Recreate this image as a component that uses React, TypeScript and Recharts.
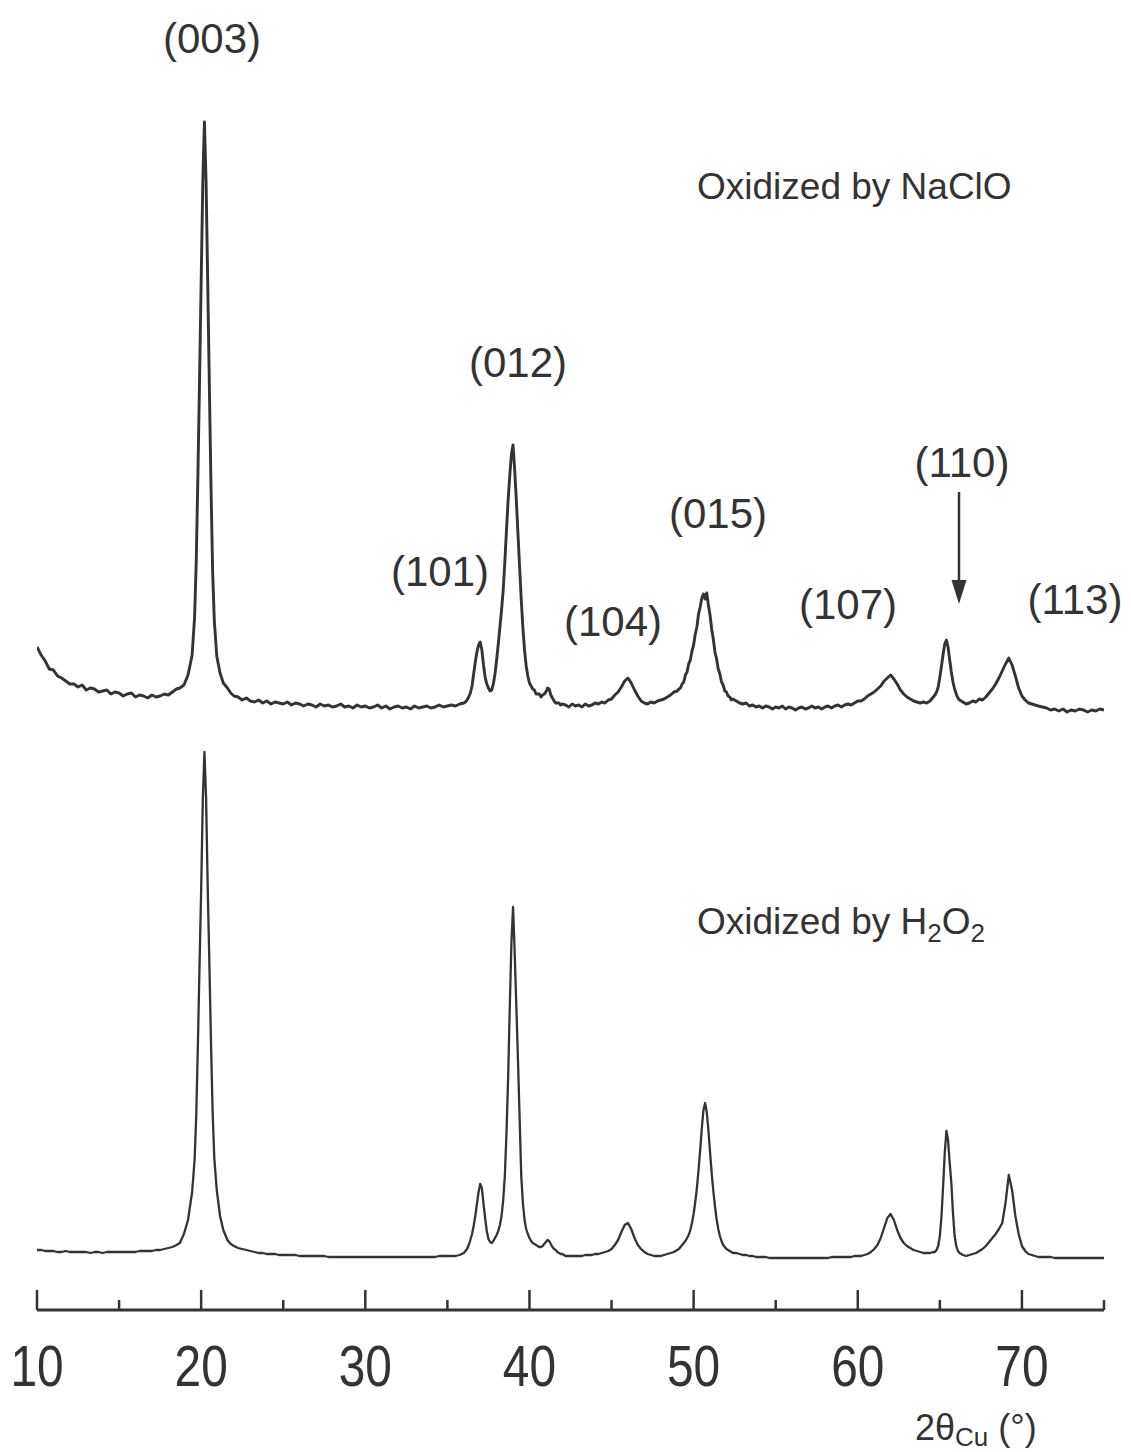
import { LineChart, Line, XAxis, YAxis } from "recharts";

// 2θ (degrees) sampling grid, denser around the reflections
const angle = [
  10, 10.25, 10.5, 10.75, 11, 11.25, 11.5, 11.75, 12, 12.25, 12.5, 12.75, 13, 13.25, 13.5, 13.75, 14, 14.25, 14.5, 14.75, 15, 15.25, 15.5, 15.75, 16, 16.25, 16.5, 16.75, 17, 17.25, 17.5, 17.75, 18, 18.25, 18.5,
  18.7, 18.95, 19.2, 19.45, 19.6, 19.7, 19.8, 19.9, 20.0, 20.1, 20.2, 20.3, 20.4, 20.5, 20.6, 20.7, 20.8, 20.95, 21.15, 21.35, 21.6, 21.8,
  22, 22.25, 22.5, 22.75, 23, 23.25, 23.5, 23.75, 24, 24.25, 24.5, 24.75, 25, 25.25, 25.5, 25.75, 26, 26.25, 26.5, 26.75, 27, 27.25, 27.5, 27.75, 28, 28.25, 28.5, 28.75, 29, 29.25, 29.5, 29.75, 30, 30.25, 30.5, 30.75, 31, 31.25, 31.5, 31.75, 32, 32.25, 32.5, 32.75, 33, 33.25, 33.5, 33.75, 34, 34.25, 34.5, 34.75, 35, 35.25, 35.5, 35.75,
  36.0, 36.1, 36.2, 36.3, 36.4, 36.5, 36.6, 36.7, 36.8, 36.9, 37.0, 37.1, 37.2, 37.3, 37.4, 37.5, 37.6, 37.7, 37.8, 37.9, 38.0, 38.1, 38.2, 38.3, 38.4, 38.5, 38.6, 38.7, 38.8, 38.9, 39.0, 39.1, 39.2, 39.3, 39.4, 39.5, 39.6, 39.7, 39.8, 39.9, 40.0, 40.1, 40.2, 40.3, 40.4, 40.5, 40.6, 40.7, 40.8, 40.9, 41.0, 41.1, 41.2, 41.3, 41.4, 41.5, 41.6, 41.7, 41.8, 41.9, 42.0,
  42.2, 42.4, 42.6, 42.8, 43, 43.2, 43.4, 43.6, 43.8, 44, 44.2, 44.4, 44.6, 44.8, 45, 45.2, 45.4, 45.6, 45.8, 46, 46.2, 46.4, 46.6, 46.8, 47, 47.2, 47.4, 47.6, 47.8, 48, 48.2, 48.4, 48.6, 48.8,
  49.0, 49.1, 49.2, 49.3, 49.4, 49.5, 49.6, 49.7, 49.8, 49.9, 50.0, 50.1, 50.2, 50.3, 50.4, 50.5, 50.6, 50.7, 50.8, 50.9, 51.0, 51.1, 51.2, 51.3, 51.4, 51.5, 51.6, 51.7, 51.8, 51.9, 52.0, 52.1, 52.2, 52.3, 52.4,
  52.6, 52.8, 53, 53.2, 53.4, 53.6, 53.8, 54, 54.2, 54.4, 54.6, 54.8, 55, 55.2, 55.4, 55.6, 55.8, 56, 56.2, 56.4, 56.6, 56.8, 57, 57.2, 57.4, 57.6, 57.8, 58, 58.2, 58.4, 58.6, 58.8, 59, 59.2, 59.4, 59.6, 59.8, 60, 60.2, 60.4,
  60.6, 60.8, 61, 61.2, 61.4, 61.6, 61.8, 62, 62.2, 62.4, 62.6, 62.8, 63, 63.2, 63.4, 63.6, 63.8, 64, 64.2, 64.4, 64.6,
  64.7, 64.8, 64.9, 65, 65.1, 65.2, 65.3, 65.4, 65.5, 65.6, 65.7, 65.8, 65.9, 66, 66.1, 66.2,
  66.4, 66.6, 66.8, 67, 67.2, 67.4, 67.6, 67.8, 68, 68.2, 68.4, 68.6, 68.8, 69, 69.2, 69.4, 69.6, 69.8, 70, 70.2, 70.4, 70.6, 70.8, 71,
  71.25, 71.5, 71.75, 72, 72.25, 72.5, 72.75, 73, 73.25, 73.5, 73.75, 74, 74.25, 74.5, 74.75, 75,
];

// intensity (a.u.), sample oxidized by NaClO
const naclo = [
  65, 57, 51, 43, 42, 36, 34, 31, 28, 28, 25, 27, 22, 24, 23, 20, 21, 22, 18, 20, 19, 16, 18, 19, 15, 17, 16, 14, 17, 15, 16, 18, 17, 20, 23,
  24, 27, 37, 57, 95, 150, 235, 330, 430, 530, 590, 530, 430, 325, 225, 140, 92, 56, 39, 29, 24, 19,
  16, 15, 12, 14, 11, 10, 12, 9, 11, 8, 10, 9, 8, 10, 7, 9, 8, 6, 8, 7, 5, 8, 6, 7, 5, 6, 8, 5, 6, 4, 7, 5, 6, 4, 5, 7, 4, 6, 3, 5, 6, 4, 5, 3, 6, 4, 5, 6, 4, 5, 7, 5, 6, 7, 6, 8,
  9, 10, 12, 15, 19, 26, 38, 50, 60, 67, 70, 62, 47, 35, 28, 24, 21, 22, 28, 38, 52, 68, 85, 102, 122, 150, 182, 212, 236, 258, 267, 242, 212, 178, 145, 112, 84, 62, 46, 36, 29, 26, 23, 22, 18, 18, 18, 15, 17, 18, 20, 24, 23, 17, 14, 11, 9, 9, 9, 7, 8,
  7, 5, 8, 6, 7, 5, 8, 6, 7, 9, 8, 10, 9, 12, 13, 17, 20, 25, 31, 34, 29, 22, 16, 11, 9, 8, 10, 9, 11, 12, 13, 15, 17, 20,
  21, 23, 24, 28, 30, 37, 40, 48, 52, 61, 67, 78, 85, 98, 105, 114, 118, 113, 119, 107, 97, 83, 73, 60, 53, 43, 38, 30, 27, 21, 20, 16, 15, 12, 13,
  11, 9, 8, 9, 6, 7, 5, 6, 4, 6, 5, 3, 5, 4, 6, 3, 5, 4, 2, 4, 5, 3, 4, 6, 4, 5, 3, 5, 6, 4, 6, 7, 5, 7, 8, 7, 9, 11, 11, 13,
  16, 18, 20, 23, 26, 31, 34, 37, 33, 28, 22, 18, 15, 13, 11, 10, 9, 10, 9, 11, 15,
  17, 20, 25, 35, 46, 58, 68, 72, 65, 52, 40, 30, 23, 18, 14, 12,
  10, 8, 9, 11, 10, 13, 12, 15, 19, 23, 28, 34, 41, 48, 54, 47, 36, 24, 16, 12, 9, 8, 7, 6,
  5, 4, 2, 3, 1, 3, 0, 2, 1, 3, 2, 0, 2, 1, 3, 2,
];

// intensity (a.u.), sample oxidized by H2O2
const h2o2 = [
  8, 8, 7, 7, 7, 6, 6, 7, 6, 6, 6, 6, 6, 5, 6, 6, 5, 6, 6, 6, 6, 6, 6, 6, 6, 7, 7, 7, 7, 8, 8, 9, 10, 11, 13,
  15, 24, 38, 66, 98, 142, 212, 292, 368, 458, 506, 460, 370, 295, 215, 145, 100, 68, 42, 28, 18, 14,
  12, 10, 9, 8, 7, 6, 5, 5, 4, 4, 4, 3, 3, 3, 3, 3, 2, 2, 2, 2, 2, 2, 2, 1, 1, 1, 1, 1, 1, 1, 1, 1, 1, 1, 1, 1, 1, 1, 1, 1, 1, 1, 1, 1, 1, 1, 1, 1, 1, 1, 2, 2, 2, 2, 2, 3,
  5, 7, 9, 13, 18, 24, 32, 42, 54, 66, 74, 70, 54, 40, 27, 19, 16, 15, 17, 20, 23, 27, 33, 42, 58, 82, 125, 180, 250, 315, 351, 305, 252, 198, 140, 82, 55, 38, 29, 24, 20, 17, 15, 14, 13, 12, 11, 11, 12, 14, 16, 18, 17, 14, 11, 9, 8, 6, 5, 4, 4,
  2, 2, 2, 2, 2, 2, 3, 3, 3, 4, 4, 5, 6, 7, 9, 13, 18, 26, 33, 35, 29, 20, 13, 9, 6, 4, 3, 2, 2, 2, 3, 4, 5, 6,
  8, 9, 11, 13, 15, 17, 20, 23, 28, 35, 44, 56, 70, 88, 108, 130, 148, 155, 146, 128, 106, 85, 67, 52, 39, 29, 22, 17, 13, 11, 9, 8, 7, 6, 5,
  5, 4, 3, 3, 2, 2, 1, 1, 1, 1, 0, 0, 0, 0, 0, 0, 0, 0, 0, 0, 0, 0, 0, 0, 0, 0, 0, 0, 0, 1, 1, 1, 1, 1, 1, 1, 2, 2, 2, 3,
  4, 6, 9, 13, 20, 30, 40, 44, 38, 28, 20, 15, 12, 10, 8, 7, 6, 5, 5, 5, 6,
  6, 8, 12, 22, 42, 72, 105, 127, 118, 95, 75, 45, 22, 12, 7, 5,
  3, 2, 3, 4, 5, 7, 9, 12, 16, 20, 24, 29, 35, 55, 83, 68, 42, 24, 12, 7, 4, 3, 2, 1,
  1, 1, 1, 0, 0, 0, 0, 0, 0, 0, 0, 0, 0, 0, 0, 0,
];

const xTicks = [10, 15, 20, 25, 30, 35, 40, 45, 50, 55, 60, 65, 70, 75];

const peakLabels = [
  { text: "(003)", x: 212, y: 53 },
  { text: "(012)", x: 518, y: 377 },
  { text: "(101)", x: 440, y: 586 },
  { text: "(104)", x: 613, y: 636 },
  { text: "(015)", x: 718, y: 528 },
  { text: "(107)", x: 848, y: 619 },
  { text: "(110)", x: 962, y: 477 },
  { text: "(113)", x: 1075, y: 614 },
];

const rows = angle.map((a, i) => ({ angle: a, naclo: naclo[i], h2o2: h2o2[i] }));

const INK = "#333";
const SANS = "'Liberation Sans', Arial, Helvetica, sans-serif";

const AxisTick = (props: any) => {
  const { x, y, payload } = props;
  const v = payload.value as number;
  const major = v % 10 === 0;
  return (
    <g>
      <line x1={x} x2={x} y1={y} y2={y - (major ? 20 : 10)} stroke={INK} strokeWidth={2.5} />
      {major && v < 75 && (
        <text
          transform={`translate(${x},${y + 76}) scale(0.84,1)`}
          textAnchor="middle"
          fontFamily={SANS}
          fontSize={57}
          fill={INK}
        >
          {v}
        </text>
      )}
    </g>
  );
};

export default function App() {
  return (
    <div style={{ position: "relative", width: 1131, height: 1452 }}>
      <style>{`body{margin:0;background:#fff}`}</style>
      <LineChart width={1131} height={1452} data={rows} margin={{ top: 0, right: 27, bottom: 0, left: 37 }}>
        <XAxis
          dataKey="angle"
          type="number"
          domain={[10, 75]}
          ticks={xTicks}
          interval={0}
          allowDataOverflow
          height={142}
          tickSize={0}
          tickMargin={0}
          tickLine={false}
          axisLine={{ stroke: INK, strokeWidth: 3 }}
          tick={<AxisTick />}
        />
        <YAxis yAxisId="top" hide domain={[-598, 712]} allowDataOverflow />
        <YAxis yAxisId="bottom" hide domain={[-52, 1258]} allowDataOverflow />
        <Line
          yAxisId="top"
          dataKey="naclo"
          type="linear"
          dot={false}
          stroke={INK}
          strokeWidth={2.9}
          strokeLinejoin="round"
          isAnimationActive={false}
        />
        <Line
          yAxisId="bottom"
          dataKey="h2o2"
          type="linear"
          dot={false}
          stroke={INK}
          strokeWidth={2.3}
          strokeLinejoin="round"
          isAnimationActive={false}
        />
      </LineChart>
      <svg
        width={1131}
        height={1452}
        style={{ position: "absolute", left: 0, top: 0, pointerEvents: "none" }}
      >
        {peakLabels.map((p) => (
          <text key={p.text} x={p.x} y={p.y} textAnchor="middle" fontFamily={SANS} fontSize={42} fill={INK}>
            {p.text}
          </text>
        ))}
        <line x1={959} x2={959} y1={492} y2={584} stroke={INK} strokeWidth={2.5} />
        <polygon points="951.5,580 966.5,580 959,604" fill={INK} />
        <text x={697} y={199} fontFamily={SANS} fontSize={37} fill={INK}>
          Oxidized by NaClO
        </text>
        <text x={697} y={934} fontFamily={SANS} fontSize={37} fill={INK}>
          Oxidized by H
          <tspan fontSize={26} dy={8}>2</tspan>
          <tspan dy={-8}>O</tspan>
          <tspan fontSize={26} dy={8}>2</tspan>
        </text>
        <text x={915} y={1440} fontFamily={SANS} fontSize={36} fill={INK}>
          2θ
          <tspan fontSize={26} dy={6}>Cu</tspan>
          <tspan dy={-6}> (°)</tspan>
        </text>
      </svg>
    </div>
  );
}
